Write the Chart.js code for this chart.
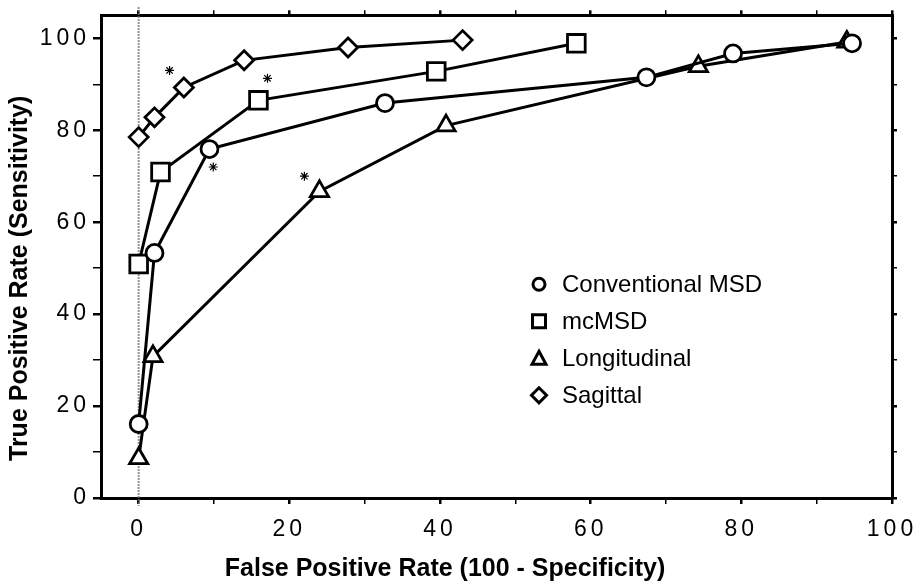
<!DOCTYPE html>
<html>
<head>
<meta charset="utf-8">
<script src="https://cdn.jsdelivr.net/npm/chart.js@4.4.0/dist/chart.umd.min.js"></script>
<style>
  html, body { margin: 0; padding: 0; background: #fff; }
</style>
</head>
<body>
<canvas id="rocChart" width="917" height="584"></canvas>
<script>
// ROC curves: false positive rate vs true positive rate, four methods
var convX = [0, 2.1, 9.4, 32.7, 67.4, 78.9, 94.7];
var convY = [16.1, 53.3, 75.9, 85.9, 91.5, 96.7, 98.9];

var mcX = [0, 2.9, 15.9, 39.5, 58.1];
var mcY = [50.9, 70.9, 86.5, 92.8, 98.9];

var longX = [0, 1.9, 24.0, 40.8, 74.3, 94.0];
var longY = [8.6, 30.8, 66.7, 81.0, 93.9, 99.2];

var sagX = [0, 2.1, 6.0, 14.0, 27.8, 43.0];
var sagY = [78.5, 82.8, 89.3, 95.2, 98.0, 99.6];

// significance marks
var starX = [4.1, 17.1, 9.9, 22.0];
var starY = [93.0, 91.3, 72.0, 70.0];

var xTicks = [0, 10, 20, 30, 40, 50, 60, 70, 80, 90, 100];
var yTicks = [0, 10, 20, 30, 40, 50, 60, 70, 80, 90, 100];

var xTitle = 'False Positive Rate (100 - Specificity)';
var yTitle = 'True Positive Rate (Sensitivity)';

function pts(xs, ys) {
    return xs.map(function (x, i) { return { x: x, y: ys[i] }; });
}

function series(label, xs, ys, style, radius) {
    return {
        label: label,
        data: pts(xs, ys),
        showLine: true,
        borderColor: '#000',
        borderWidth: 3,
        pointStyle: style,
        pointRadius: radius,
        pointHoverRadius: radius,
        pointBorderWidth: 2.8,
        pointBackgroundColor: '#fff',
        pointBorderColor: '#000'
    };
}

var tickFont = { family: '"Liberation Sans", Arial, sans-serif', size: 23 };

function fixedTicks(vals) {
    return function (scale) {
        scale.ticks = vals.map(function (v) { return { value: v }; });
    };
}

// fixed box size, no extra room for overhanging labels
function fixedSize(w, h) {
    return function (s) {
        if (w !== null) s.width = w;
        if (h !== null) s.height = h;
        s.paddingLeft = s.paddingRight = s.paddingTop = s.paddingBottom = 0;
    };
}

function every20(v) {
    return v % 20 === 0 ? v : '';
}

function gridOpts(len) {
    return {
        drawOnChartArea: false,
        drawTicks: true,
        tickLength: len,
        color: '#000',
        lineWidth: function (c) { return (c.tick && c.tick.value % 20 === 0) ? 2.5 : 1.5; }
    };
}

var border = { display: true, color: '#000', width: 3 };

// spaced digits on the axes
var spacing = {
    id: 'spacing',
    beforeDraw: function (chart) { chart.ctx.letterSpacing = '4px'; },
    beforeDatasetsDraw: function (chart) { chart.ctx.letterSpacing = '0px'; }
};

// dotted reference line at x = 0
var zeroLine = {
    id: 'zeroLine',
    beforeDatasetsDraw: function (chart) {
        var ctx = chart.ctx, a = chart.chartArea;
        var x = chart.scales.x.getPixelForValue(0);
        ctx.save();
        ctx.strokeStyle = '#707070';
        ctx.lineWidth = 2;
        ctx.setLineDash([1.5, 1.5]);
        ctx.beginPath();
        ctx.moveTo(x, a.top - 8);
        ctx.lineTo(x, a.bottom + 8);
        ctx.stroke();
        ctx.restore();
    }
};

function marker(ctx, style, x, y) {
    ctx.beginPath();
    if (style === 'circle') {
        ctx.arc(x, y, 6, 0, Math.PI * 2);
    } else if (style === 'rect') {
        ctx.rect(x - 6.5, y - 6.5, 13, 13);
    } else if (style === 'triangle') {
        ctx.moveTo(x, y - 7);
        ctx.lineTo(x + 7, y + 6);
        ctx.lineTo(x - 7, y + 6);
        ctx.closePath();
    } else {
        ctx.moveTo(x, y - 7.5);
        ctx.lineTo(x + 7.5, y);
        ctx.lineTo(x, y + 7.5);
        ctx.lineTo(x - 7.5, y);
        ctx.closePath();
    }
    ctx.fillStyle = '#fff';
    ctx.fill();
    ctx.lineWidth = 3;
    ctx.strokeStyle = '#000';
    ctx.stroke();
}

// in-plot legend and axis titles
var overlay = {
    id: 'overlay',
    afterDraw: function (chart) {
        var ctx = chart.ctx, a = chart.chartArea;
        ctx.save();
        ctx.letterSpacing = '0px';
        ctx.fillStyle = '#000';
        ctx.textBaseline = 'middle';

        var lx = a.left + 438, ly = a.top + 269;
        ctx.font = '24px "Liberation Sans", Arial, sans-serif';
        ctx.textAlign = 'left';
        chart.data.datasets.forEach(function (ds, i) {
            if (!ds.label) return;
            var y = ly + i * 37;
            marker(ctx, ds.pointStyle, lx, y);
            ctx.fillStyle = '#000';
            ctx.fillText(ds.label, lx + 23, y + 1);
        });

        ctx.font = 'bold 25px "Liberation Sans", Arial, sans-serif';
        ctx.textAlign = 'center';
        ctx.fillText(xTitle, a.left + 344, a.bottom + 71);

        ctx.translate(20, a.top + 263);
        ctx.rotate(-Math.PI / 2);
        ctx.fillText(yTitle, 0, 0);
        ctx.restore();
    }
};

var ctx = document.getElementById('rocChart').getContext('2d');
var rocChart = new Chart(ctx, {
    type: 'scatter',
    data: {
        datasets: [
            series('Conventional MSD', convX, convY, 'circle', 8.5),
            series('mcMSD', mcX, mcY, 'rect', 12.5),
            series('Longitudinal', longX, longY, 'triangle', 10.5),
            series('Sagittal', sagX, sagY, 'rectRot', 9.5),
            {
                label: '',
                data: pts(starX, starY),
                showLine: false,
                pointStyle: 'star',
                pointRadius: 4.5,
                pointBorderWidth: 1.2,
                pointBorderColor: '#000'
            }
        ]
    },
    options: {
        responsive: false,
        animation: false,
        layout: { padding: 0 },
        plugins: {
            legend: { display: false },
            tooltip: { enabled: false }
        },
        scales: {
            x: {
                type: 'linear',
                position: 'bottom',
                min: -5,
                max: 100,
                afterBuildTicks: fixedTicks(xTicks),
                afterFit: fixedSize(null, 86),
                ticks: { callback: every20, font: tickFont, color: '#000', padding: 12, maxRotation: 0, autoSkip: false },
                grid: gridOpts(6),
                border: border
            },
            xTop: {
                type: 'linear',
                position: 'top',
                min: -5,
                max: 100,
                afterBuildTicks: fixedTicks(xTicks),
                afterFit: fixedSize(null, 14),
                ticks: { display: false },
                grid: gridOpts(5),
                border: border
            },
            y: {
                type: 'linear',
                position: 'left',
                min: 0,
                max: 105,
                afterBuildTicks: fixedTicks(yTicks),
                afterFit: fixedSize(101, null),
                ticks: { callback: every20, font: tickFont, color: '#000', padding: 3, autoSkip: false },
                grid: gridOpts(8),
                border: border
            },
            yRight: {
                type: 'linear',
                position: 'right',
                min: 0,
                max: 105,
                afterBuildTicks: fixedTicks(yTicks),
                afterFit: fixedSize(25, null),
                ticks: { display: false },
                grid: gridOpts(5),
                border: border
            }
        }
    },
    plugins: [spacing, zeroLine, overlay]
});
</script>
</body>
</html>
